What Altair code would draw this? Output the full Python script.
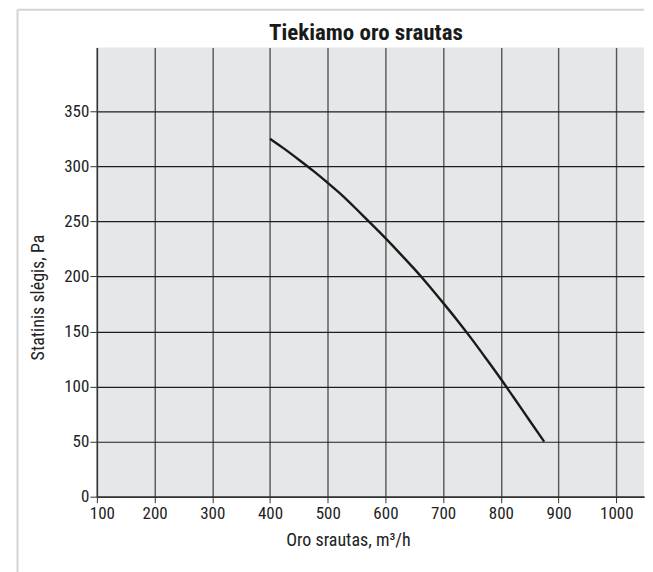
import altair as alt
import pandas as pd

# Curve (airflow m3/h, static pressure Pa)
flow = [400, 425, 450, 475, 500, 525, 550, 575, 600, 625, 650, 675, 700, 725, 750, 775, 800, 825, 850, 875]
pressure = [325, 316, 306, 296, 285, 274, 261, 248, 235, 221, 207, 192, 176, 160, 143, 125, 107, 88, 69, 50]

x_ticks = [100, 200, 300, 400, 500, 600, 700, 800, 900, 1000]
y_ticks = [0, 50, 100, 150, 200, 250, 300, 350]

title_text = "Tiekiamo oro srautas"
x_title = "Oro srautas, m³/h"
y_title = "Statinis slėgis, Pa"

FONT = "Liberation Sans Narrow, Arial Narrow, Roboto Condensed, DejaVu Sans Condensed, sans-serif"

W = 548
H = 450

df = pd.DataFrame({"flow": flow, "pressure": pressure})

x_enc = alt.X(
    "flow:Q",
    scale=alt.Scale(domain=[100, 1048], nice=False, zero=False),
    axis=alt.Axis(
        values=x_ticks, format="d", title=x_title, grid=True, gridColor="#555555", gridWidth=1.4,
        domainColor="#333333", domainWidth=1.4, tickColor="#333333", tickSize=6,
        labelFontSize=17, labelFont=FONT, labelColor="#222222", labelPadding=3, labelFlush=False,
        labelOffset={"condition": {"test": "datum.value == 100", "value": 5}, "value": 0},
        titleFont=FONT, titleFontSize=18, titleFontWeight="normal", titleColor="#222222",
        titleX=251.5, titleY=44, titleAlign="center", titleBaseline="middle",
    ),
)
y_enc = alt.Y(
    "pressure:Q",
    scale=alt.Scale(domain=[0, 408], nice=False),
    axis=alt.Axis(
        values=y_ticks, title=y_title, grid=True, gridColor="#1e1e1e", gridWidth=1.2,
        domainColor="#333333", domainWidth=1.4, tickColor="#333333", tickSize=7,
        labelFontSize=17, labelFont=FONT, labelColor="#222222", labelPadding=1, labelFlush=False,
        titleFont=FONT, titleFontSize=18, titleFontWeight="normal", titleColor="#222222",
        titleX=-58.5, titleY=250, titleAngle=270, titleAlign="center", titleBaseline="middle",
    ),
)

curve = alt.Chart(df).mark_line(
    color="#1a1a1a", strokeWidth=2.4, interpolate="basis"
).encode(x=x_enc, y=y_enc)

one = pd.DataFrame({"a": [0]})
frame_top = alt.Chart(one).mark_rule(color="#d4d4d4", strokeWidth=2).encode(
    x=alt.value(-79.5), x2=alt.value(W), y=alt.value(-37.7)
)
frame_left = alt.Chart(one).mark_rule(color="#d4d4d4", strokeWidth=2).encode(
    x=alt.value(-79.5), y=alt.value(-37.7), y2=alt.value(H + 90)
)
title_mark = alt.Chart(one).mark_text(
    text=title_text, font=FONT, fontSize=23, fontWeight="bold", color="#1a1a1a",
    align="center", baseline="alphabetic",
).encode(x=alt.value(269.5), y=alt.value(-7.7))

chart = alt.layer(frame_top, frame_left, title_mark, curve).properties(
    width=W,
    height=H,
    background="white",
    padding={"left": 8, "top": 0, "right": 0, "bottom": 0},
).configure_view(
    fill="#e6e7e8", strokeWidth=0
)

chart.save("out.html", embed_options={"renderer": "svg", "actions": False})
